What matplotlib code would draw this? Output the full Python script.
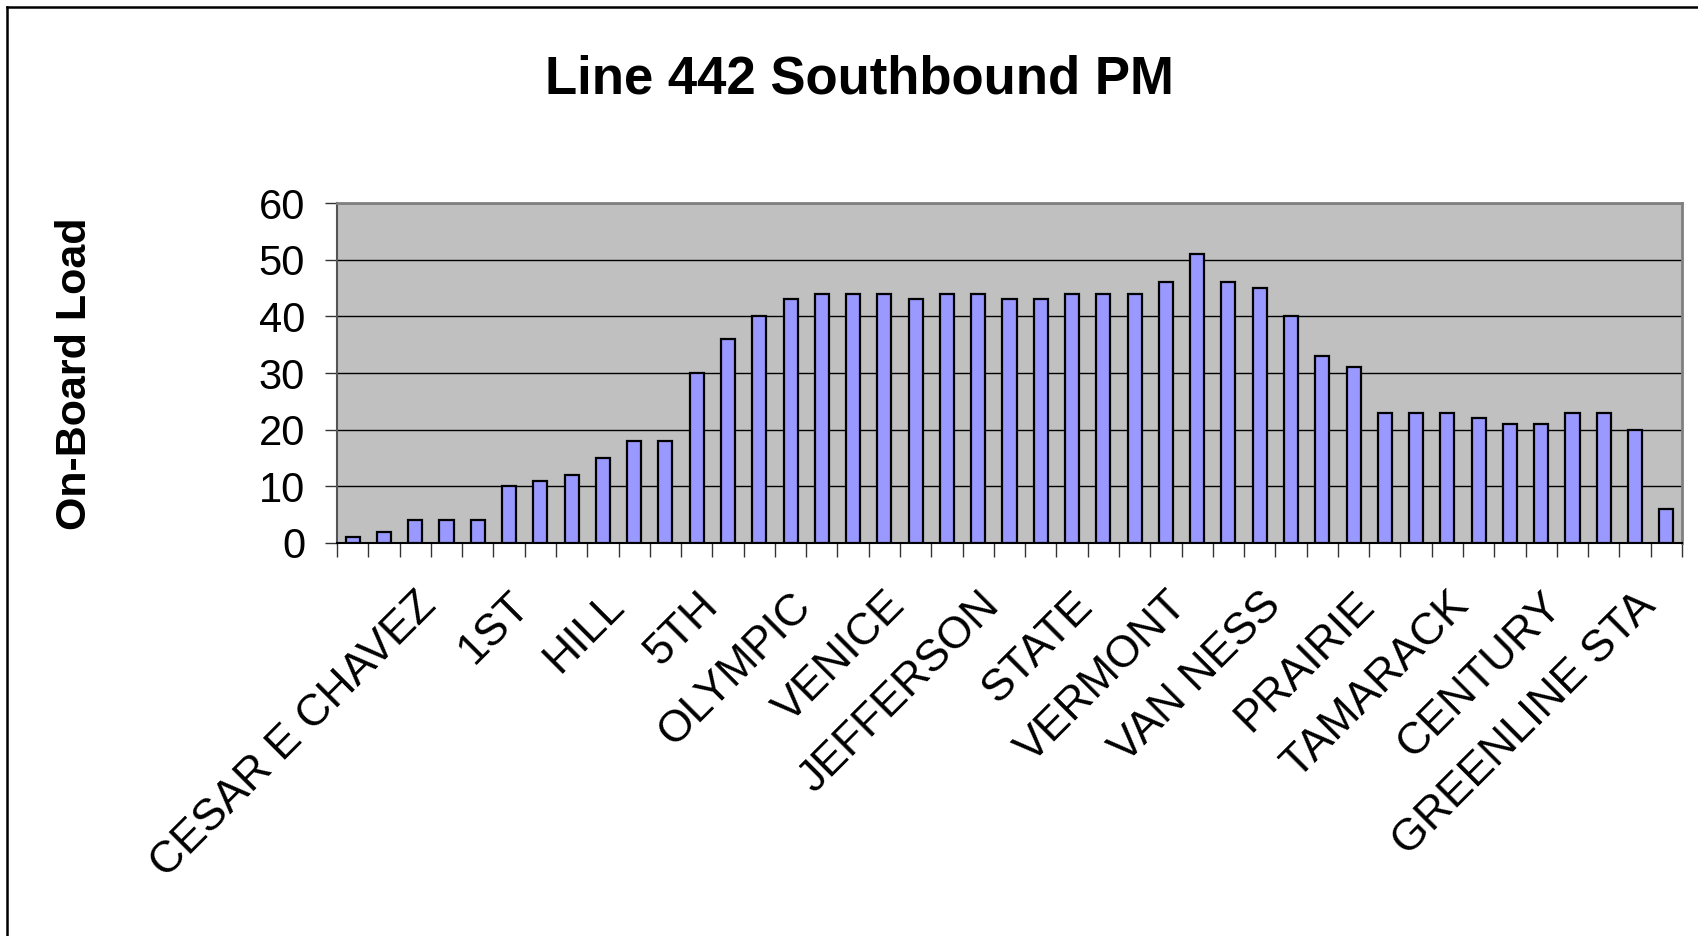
import matplotlib
matplotlib.use('Agg')
import matplotlib.pyplot as plt
import matplotlib.transforms as mtransforms
from matplotlib.lines import Line2D
import numpy as np

plt.rcParams['font.family'] = ['Liberation Sans', 'DejaVu Sans']

title = 'Line 442 Southbound PM'
ylabel = 'On-Board Load'

# on-board load at each stop (43 stops)
loads = [1, 2, 4, 4, 4, 10, 11, 12, 15, 18,
         18, 30, 36, 40, 43, 44, 44, 44, 43, 44,
         44, 43, 43, 44, 44, 44, 46, 51, 46, 45,
         40, 33, 31, 23, 23, 23, 22, 21, 21, 23,
         23, 20, 6]

# only every third stop gets a label
stop_labels = ['CESAR E CHAVEZ', '1ST', 'HILL', '5TH', 'OLYMPIC', 'VENICE',
               'JEFFERSON', 'STATE', 'VERMONT', 'VAN NESS', 'PRAIRIE',
               'TAMARACK', 'CENTURY', 'GREENLINE STA']
label_idx = [2, 5, 8, 11, 14, 17, 20, 23, 26, 29, 32, 35, 38, 41]

yticks = [0, 10, 20, 30, 40, 50, 60]

W, H = 1698, 936
fig = plt.figure(figsize=(W / 100, H / 100), dpi=100)
ax = fig.add_axes([337 / W, 1 - 543 / H, (1682 - 337) / W, (543 - 203) / H])

x = np.arange(len(loads))
ax.set_facecolor('#C0C0C0')
ax.bar(x, loads, width=0.45, color='#9999FF', edgecolor='black', linewidth=1.6, zorder=3)

ax.set_xlim(-0.5, len(loads) - 0.5)
ax.set_ylim(0, 60)
ax.set_yticks(yticks)
ax.yaxis.grid(True, color='black', linewidth=1.0, zorder=1)
ax.set_axisbelow(True)

# tick marks between categories, labels on the categories
ax.set_xticks(np.arange(len(loads) + 1) - 0.5)
ax.set_xticklabels([])
ax.set_xticks(label_idx, stop_labels, minor=True)
ax.tick_params(axis='x', which='major', direction='out', length=10, width=1, color='#333333')
ax.tick_params(axis='x', which='minor', length=0, pad=30, labelsize=32)
ax.tick_params(axis='y', direction='out', length=9, width=1, pad=14, labelsize=30, color='#333333')

offset = mtransforms.ScaledTranslation(0, 0, fig.dpi_scale_trans)
for lab in ax.get_xticklabels(minor=True):
    lab.set_rotation(45)
    lab.set_ha('right')
    lab.set_va('top')
    lab.set_rotation_mode('anchor')
    lab.set_transform(lab.get_transform() + offset)

for s in ['top', 'right']:
    ax.spines[s].set_color('#808080')
    ax.spines[s].set_linewidth(2)
ax.spines['left'].set_color('#555555')
ax.spines['left'].set_linewidth(1.5)
ax.spines['bottom'].set_color('black')
ax.spines['bottom'].set_linewidth(1.5)

fig.text(859 / W, 1 - 93 / H, title, ha='center', va='baseline',
         fontsize=38, fontweight='bold')
fig.text(75 / W, 1 - 374 / H, ylabel, ha='center', va='center',
         rotation=90, fontsize=31, fontweight='bold')

# chart frame (only top and left edges visible in the picture)
fig.add_artist(Line2D([7 / W, 7 / W], [0, 1 - 7 / H], transform=fig.transFigure,
                      color='black', linewidth=1.8))
fig.add_artist(Line2D([7 / W, 1], [1 - 7 / H, 1 - 7 / H], transform=fig.transFigure,
                      color='black', linewidth=1.8))

fig.savefig('out.png', dpi=100)
